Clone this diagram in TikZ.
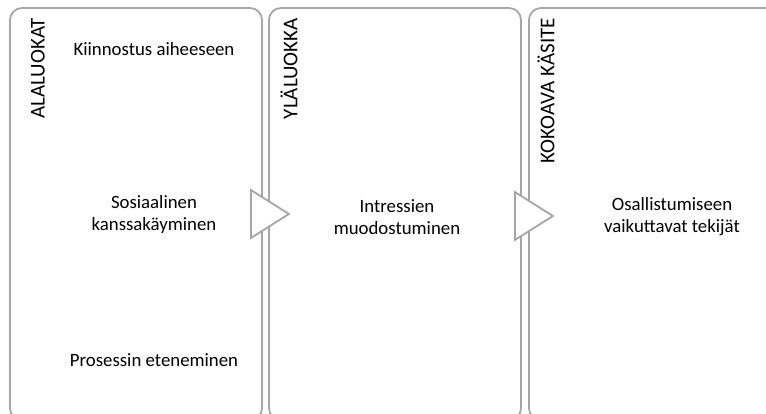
\documentclass[tikz,border=0pt]{standalone}
\usepackage{fontspec}
\setmainfont{Carlito}
\usepackage{tikz}
\usetikzlibrary{positioning,calc,shapes.geometric}

\begin{document}
\begin{tikzpicture}[x=1pt,y=1pt,box/.style={rectangle,draw=gray!70,line width=1.8pt,rounded corners=12pt,minimum width=252pt,minimum height=412pt,inner sep=0pt},tri/.style={isosceles triangle,isosceles triangle stretches,draw=gray!70,fill=white,line width=1.8pt,minimum width=48pt,minimum height=38pt,inner sep=0pt,anchor=lower side},lbl/.style={rotate=90,anchor=east,inner sep=0pt,font=\fontsize{21}{24}\selectfont},txt/.style={align=center,font=\fontsize{18.8}{22}\selectfont}]
    \path[use as bounding box,clip] (0,0) rectangle (766,-414);
	\node[box] (b1) at (136,-214) {};
	\node[box] (b2) at (395,-214) {};
	\node[box] (b3) at (655,-214) {};
	\node[tri] (t1) at (250,-214) {};
	\node[tri] (t2) at (514,-216) {};
	% column titles
	\node[lbl] (l1) at (38,-18) {ALALUOKAT};
	\node[lbl] (l2) at (289,-18) {YLÄLUOKKA};
	\node[lbl] (l3) at (546,-18) {KOKOAVA KÄSITE};
	\node[txt] (a1) at (154,-49) {Kiinnostus aiheeseen};
	\node[txt] (a2) at (154,-214) {Sosiaalinen\\kanssakäyminen};
	\node[txt] (a3) at (154,-360) {Prosessin eteneminen};
	\node[txt] (y1) at (397,-217) {Intressien\\muodostuminen};
	\node[txt] (k1) at (672,-217) {Osallistumiseen\\vaikuttavat tekijät};
\end{tikzpicture}
\end{document}
